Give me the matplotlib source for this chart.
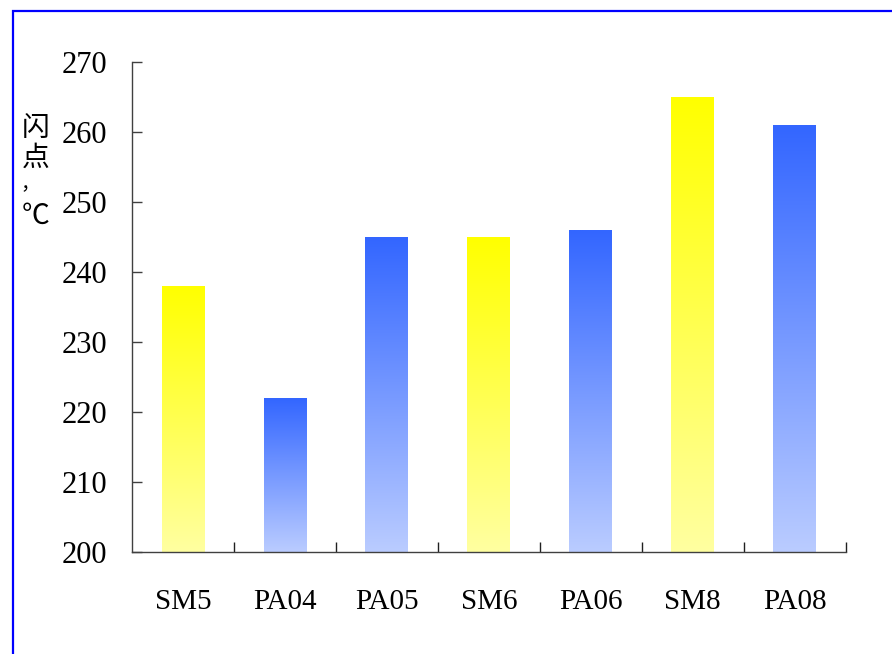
import numpy as np
import matplotlib
matplotlib.use("Agg")
import matplotlib.pyplot as plt
from matplotlib.patches import Rectangle

categories = ["SM5", "PA04", "PA05", "SM6", "PA06", "SM8", "PA08"]
flash_points = [238, 222, 245, 245, 246, 265, 261]
kinds = ["SM", "PA", "PA", "SM", "PA", "SM", "PA"]
y_ticks = [200, 210, 220, 230, 240, 250, 260, 270]
ylabel_chars = ["闪", "点", "，", "℃"]

# top colour -> bottom colour of each gradient
gradients = {
    "SM": ((1.0, 1.0, 0.0), (1.0, 1.0, 0.63)),
    "PA": ((0.2, 0.4, 1.0), (0.73, 0.8, 1.0)),
}

serif = "Liberation Serif"
cjk = ["Noto Sans CJK SC", "DejaVu Sans"]

fig = plt.figure(figsize=(8.92, 6.54), dpi=100)
ax = fig.add_axes([0.148, 0.156, 0.800, 0.749])

bar_w = 0.42
x = np.arange(len(categories))
for xi, val, kind in zip(x, flash_points, kinds):
    top, bot = gradients[kind]
    t = np.linspace(0, 1, 256)[:, None]
    img = np.array(top)[None, None, :] * (1 - t[..., None]) + np.array(bot)[None, None, :] * t[..., None]
    ax.imshow(img, extent=[xi - bar_w / 2, xi + bar_w / 2, 200, val],
              aspect="auto", origin="upper", zorder=2, interpolation="bilinear")

ax.set_xlim(-0.5, len(categories) - 0.5)
ax.set_ylim(200, 270)

ax.spines["top"].set_visible(False)
ax.spines["right"].set_visible(False)
for s in ("left", "bottom"):
    ax.spines[s].set_color("#404040")
    ax.spines[s].set_linewidth(1.0)

ax.set_yticks(y_ticks)
ax.set_yticklabels([str(v) for v in y_ticks], fontfamily=serif, fontsize=22)
ax.tick_params(axis="y", direction="in", length=7, width=1, color="#404040", pad=18)

ax.set_xticks(x + 0.5)
ax.set_xticklabels([])
ax.set_xticks(x, minor=True)
ax.set_xticklabels(categories, minor=True, fontfamily=serif, fontsize=21)
ax.tick_params(axis="x", which="major", direction="in", length=7, width=1, color="#202020")
ax.tick_params(axis="x", which="minor", length=0, pad=27)

# vertical y label, one character per line
label_y = [128, 158, 185, 216]   # pixel rows from top
label_x = [36, 36, 30, 36]
label_size = [20, 20, 14, 20]
for ch, lx, ly, fs in zip(ylabel_chars, label_x, label_y, label_size):
    fig.text(lx / 892, 1 - ly / 654, ch, fontsize=fs, family=cjk,
             ha="center", va="center")

fig.patches.append(Rectangle((13 / 892, -0.2), 1.3, 1.2 - 11 / 654,
                             transform=fig.transFigure, fill=False,
                             edgecolor="#0000FF", linewidth=1.6, clip_on=False))

fig.savefig("out.png", dpi=100, facecolor="white")
